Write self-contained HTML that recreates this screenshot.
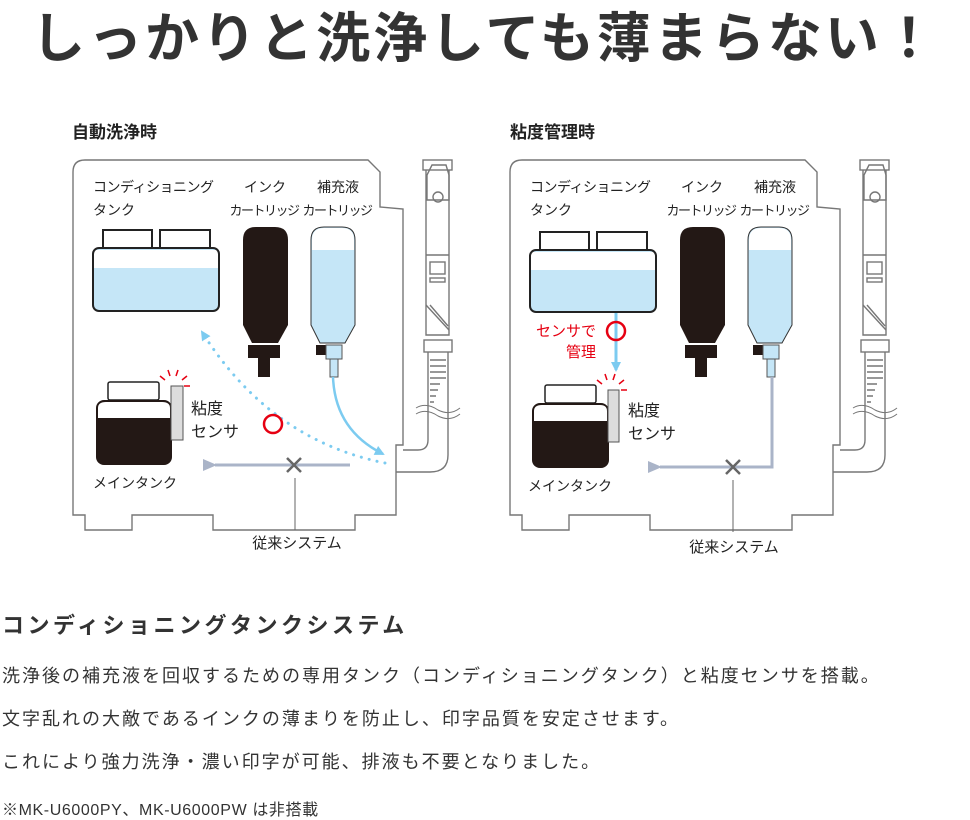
<!DOCTYPE html>
<html><head><meta charset="utf-8"><style>
body{margin:0;background:#fff;width:970px;height:818px;overflow:hidden;font-family:"Liberation Sans","Noto Sans CJK JP",sans-serif;color:#222}
svg{position:absolute;left:0;top:0}
.t{position:absolute;left:0;white-space:nowrap}
</style></head><body>
<div class="t" style="left:0;width:970px;text-align:center;top:-6px;font-size:54px;font-weight:bold;color:#333;letter-spacing:3px">しっかりと洗浄しても薄まらない！</div>
<div class="t" style="left:72px;top:118px;font-size:17px;font-weight:bold">自動洗浄時</div>
<div class="t" style="left:510px;top:118px;font-size:17px;font-weight:bold">粘度管理時</div>
<div class="t" style="left:2px;top:608px;font-size:22px;font-weight:bold;color:#333;letter-spacing:3.5px">コンディショニングタンクシステム</div>
<div class="t" style="left:2px;top:662px;font-size:18px;color:#333;letter-spacing:2px">洗浄後の補充液を回収するための専用タンク（コンディショニングタンク）と粘度センサを搭載。</div>
<div class="t" style="left:2px;top:705px;font-size:18px;color:#333;letter-spacing:2px">文字乱れの大敵であるインクの薄まりを防止し、印字品質を安定させます。</div>
<div class="t" style="left:2px;top:748px;font-size:18px;color:#333;letter-spacing:2px">これにより強力洗浄・濃い印字が可能、排液も不要となりました。</div>
<div class="t" style="left:2px;top:796px;font-size:16px;color:#333;letter-spacing:0.6px">※MK-U6000PY、MK-U6000PW は非搭載</div>
<svg width="970" height="818" viewBox="0 0 970 818" font-family="Liberation Sans, Noto Sans CJK JP, sans-serif">
<defs>
<marker id="ab" markerWidth="10" markerHeight="10" refX="8" refY="5" orient="auto" markerUnits="userSpaceOnUse"><path d="M0,0 L10,5 L0,10 Z" fill="#7ccbf0"/></marker>
<marker id="ag" markerWidth="14" markerHeight="12" refX="2" refY="6" orient="auto" markerUnits="userSpaceOnUse"><path d="M14,0 L0,6 L14,12 Z" fill="#aab4c8"/></marker>
</defs>
<g fill="none" stroke="#777" stroke-width="1.4">
<g>
<path d="M73,172 Q73,160 85,160 L368,160 L380,172 L380,207 L403,209 L403,445 L396,445 L396,472 L396,500 L396,515 L355,515 L355,530 L213,530 L213,515 L132,515 L132,530 L85,530 L85,515 L73,515 Z"/>
<rect x="423" y="160" width="29" height="10"/>
<path d="M426,170 L426,335 L449,335 L449,170"/>
<path d="M427,175 L432,165 L446,165 L449,175 L449,200 L427,200 Z"/>
<circle cx="438" cy="197" r="5"/>
<line x1="426" y1="255" x2="449" y2="255"/>
<rect x="430" y="262" width="15" height="12"/><rect x="430" y="278" width="15" height="4"/>
<line x1="426" y1="305" x2="449" y2="330"/><line x1="430" y1="305" x2="448" y2="326"/>
<rect x="424" y="340" width="28" height="12"/>
<path d="M428,352 L428,440 Q428,450 418,450 L403,450 M448,352 L448,455 Q448,472 430,472 L396,472"/>
<path d="M430,360 H446 M430,366 H446 M430,372 H446 M430,378 H446 M430,384 H440 M430,390 H438 M430,396 H436 M430,402 H434"/>
<path d="M416,408 Q426,402 438,410 Q450,416 460,408 M416,414 Q426,408 438,416 Q450,422 460,414" stroke-width="1"/>
</g>
<g transform="translate(437,0)">
<path d="M73,172 Q73,160 85,160 L368,160 L380,172 L380,207 L403,209 L403,445 L396,445 L396,472 L396,500 L396,515 L355,515 L355,530 L213,530 L213,515 L132,515 L132,530 L85,530 L85,515 L73,515 Z"/>
<rect x="423" y="160" width="29" height="10"/>
<path d="M426,170 L426,335 L449,335 L449,170"/>
<path d="M427,175 L432,165 L446,165 L449,175 L449,200 L427,200 Z"/>
<circle cx="438" cy="197" r="5"/>
<line x1="426" y1="255" x2="449" y2="255"/>
<rect x="430" y="262" width="15" height="12"/><rect x="430" y="278" width="15" height="4"/>
<line x1="426" y1="305" x2="449" y2="330"/><line x1="430" y1="305" x2="448" y2="326"/>
<rect x="424" y="340" width="28" height="12"/>
<path d="M428,352 L428,440 Q428,450 418,450 L403,450 M448,352 L448,455 Q448,472 430,472 L396,472"/>
<path d="M430,360 H446 M430,366 H446 M430,372 H446 M430,378 H446 M430,384 H440 M430,390 H438 M430,396 H436 M430,402 H434"/>
<path d="M416,408 Q426,402 438,410 Q450,416 460,408 M416,414 Q426,408 438,416 Q450,422 460,414" stroke-width="1"/>
</g>
</g>
<!-- LEFT -->
<g font-size="14" fill="#222">
<text x="93" y="192" letter-spacing="-0.5">コンディショニング</text><text x="93" y="215">タンク</text>
<text x="265" y="192" text-anchor="middle">インク</text><text x="264" y="215" text-anchor="middle" font-size="13" letter-spacing="-1.5">カートリッジ</text>
<text x="338" y="192" text-anchor="middle">補充液</text><text x="337" y="215" text-anchor="middle" font-size="13" letter-spacing="-1.5">カートリッジ</text>
<text x="191" y="414" font-size="16">粘度</text><text x="191" y="437" font-size="16">センサ</text>
<text x="93" y="488">メインタンク</text>
<text x="297" y="548" text-anchor="middle" font-size="15">従来システム</text>
</g>
<path d="M103,248 V230 H152 V248 M160,248 V230 H210 V248" fill="#fff" stroke="#222" stroke-width="2"/>
<rect x="93" y="248" width="126" height="63" rx="6" fill="#c5e6f7"/>
<path d="M94,268 H218 V250 H94 Z" fill="#fff"/>
<rect x="93" y="248" width="126" height="63" rx="6" fill="none" stroke="#222" stroke-width="2"/>
<path d="M243,240 Q243,227 256,227 H275 Q288,227 288,240 V325 L278,343 H252 L243,325 Z" fill="#231815"/>
<rect x="248" y="345" width="32" height="13" fill="#231815"/><rect x="258" y="358" width="12" height="19" fill="#231815"/>
<path d="M311,240 Q311,227 324,227 H342 Q355,227 355,240 V325 L345,343 H320 L311,325 Z" fill="#c5e6f7" stroke="#333" stroke-width="1"/>
<path d="M312,240 Q312,228 324,228 H342 Q354,228 354,240 V250 H312 Z" fill="#fff"/>
<rect x="316" y="345" width="12" height="10" fill="#231815"/><rect x="326" y="345" width="16" height="14" fill="#c5e6f7" stroke="#555"/><rect x="330" y="359" width="8" height="18" fill="#c5e6f7" stroke="#555"/>
<rect x="108" y="382" width="51" height="18" rx="2" fill="#fff" stroke="#222" stroke-width="1.5"/>
<rect x="96" y="400" width="76" height="65" rx="8" fill="#231815"/>
<path d="M98,418 V408 Q98,402 106,402 H162 Q170,402 170,408 V418 Z" fill="#fff"/>
<rect x="171" y="386" width="12" height="54" fill="#ddd" stroke="#555"/>
<path d="M165,380 L160,376 M170,376 L168,370 M176,376 L178,370 M182,380 L187,376 M184,386 L190,386" stroke="#e60012" stroke-width="1.5"/>
<path d="M385,463 Q270,440 202,332" fill="none" stroke="#7ccbf0" stroke-width="3" stroke-dasharray="0.1 8" stroke-linecap="round" marker-end="url(#ab)"/>
<circle cx="273" cy="424" r="9" fill="none" stroke="#e60012" stroke-width="2.5"/>
<path d="M333,377 Q335,430 383,454" fill="none" stroke="#7ccbf0" stroke-width="2.5" marker-end="url(#ab)"/>
<line x1="350" y1="465" x2="215" y2="465" stroke="#aab4c8" stroke-width="3" marker-end="url(#ag)"/>
<path d="M287,458 L301,472 M301,458 L287,472" stroke="#666" stroke-width="2.5"/>
<line x1="295" y1="478" x2="295" y2="530" stroke="#666" stroke-width="1"/>
<!-- RIGHT -->
<g font-size="14" fill="#222">
<text x="530" y="192" letter-spacing="-0.5">コンディショニング</text><text x="530" y="215">タンク</text>
<text x="702" y="192" text-anchor="middle">インク</text><text x="701" y="215" text-anchor="middle" font-size="13" letter-spacing="-1.5">カートリッジ</text>
<text x="775" y="192" text-anchor="middle">補充液</text><text x="774" y="215" text-anchor="middle" font-size="13" letter-spacing="-1.5">カートリッジ</text>
<text x="628" y="416" font-size="16">粘度</text><text x="628" y="439" font-size="16">センサ</text>
<text x="528" y="491">メインタンク</text>
<text x="734" y="552" text-anchor="middle" font-size="15">従来システム</text>
<text x="596" y="336" text-anchor="end" font-size="15" fill="#e60012">センサで</text>
<text x="596" y="357" text-anchor="end" font-size="15" fill="#e60012">管理</text>
</g>
<path d="M540,250 V232 H589 V250 M597,250 V232 H647 V250" fill="#fff" stroke="#222" stroke-width="2"/>
<rect x="530" y="250" width="126" height="62" rx="6" fill="#c5e6f7"/>
<path d="M531,270 H655 V252 H531 Z" fill="#fff"/>
<rect x="530" y="250" width="126" height="62" rx="6" fill="none" stroke="#222" stroke-width="2"/>
<path d="M680,240 Q680,227 693,227 H712 Q725,227 725,240 V325 L715,343 H689 L680,325 Z" fill="#231815"/>
<rect x="685" y="345" width="32" height="13" fill="#231815"/><rect x="695" y="358" width="12" height="19" fill="#231815"/>
<path d="M748,240 Q748,227 761,227 H779 Q792,227 792,240 V325 L782,343 H757 L748,325 Z" fill="#c5e6f7" stroke="#333" stroke-width="1"/>
<path d="M749,240 Q749,228 761,228 H779 Q791,228 791,240 V250 H749 Z" fill="#fff"/>
<rect x="753" y="345" width="12" height="10" fill="#231815"/><rect x="763" y="345" width="16" height="14" fill="#c5e6f7" stroke="#555"/><rect x="767" y="359" width="8" height="18" fill="#c5e6f7" stroke="#555"/>
<rect x="545" y="385" width="51" height="18" rx="2" fill="#fff" stroke="#222" stroke-width="1.5"/>
<rect x="532" y="403" width="77" height="65" rx="8" fill="#231815"/>
<path d="M534,421 V411 Q534,405 542,405 H600 Q607,405 607,411 V421 Z" fill="#fff"/>
<rect x="608" y="390" width="11" height="52" fill="#ddd" stroke="#555"/>
<path d="M602,384 L597,380 M607,380 L605,374 M613,380 L615,374 M619,384 L624,380 M621,390 L627,390" stroke="#e60012" stroke-width="1.5"/>
<line x1="616" y1="313" x2="616" y2="370" stroke="#7ccbf0" stroke-width="3" marker-end="url(#ab)"/>
<circle cx="616" cy="331" r="9" fill="none" stroke="#e60012" stroke-width="2.5"/>
<path d="M772,377 V467 H660" fill="none" stroke="#aab4c8" stroke-width="3" marker-end="url(#ag)"/>
<path d="M726,460 L740,474 M740,460 L726,474" stroke="#666" stroke-width="2.5"/>
<line x1="733" y1="480" x2="733" y2="532" stroke="#666" stroke-width="1"/>
</svg>
</body></html>
